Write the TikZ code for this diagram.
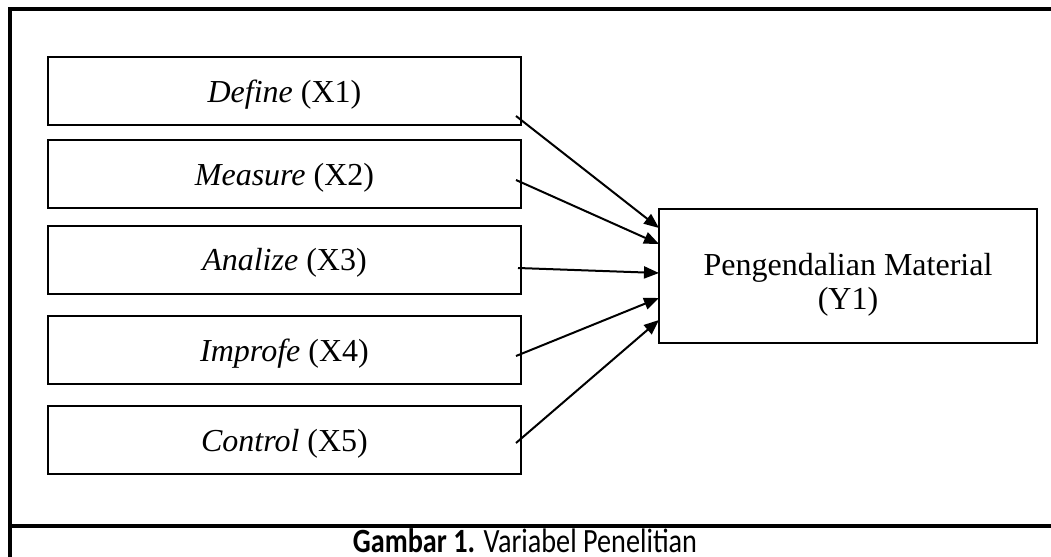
\documentclass[tikz,border=0pt]{standalone}
\usepackage{fontspec}
\setmainfont{Liberation Serif}
\newfontfamily\capfont{Carlito}
\usetikzlibrary{arrows.meta, positioning}
\tikzstyle{var} = [draw=black, line width=1pt, minimum width=236.5pt, minimum height=34pt, inner sep=0,
                   text depth=0pt, font=\fontsize{16}{18}\selectfont]
\tikzstyle{target} = [draw=black, line width=1pt, minimum width=189pt, minimum height=67pt]
\tikzstyle{link} = [line width=1pt, -{Triangle[length=7.5pt, width=6pt]}]
\tikzstyle{frame} = [line width=1.75pt]

\begin{document}
\begin{tikzpicture}[x=0.5pt, y=-0.5pt]
	\useasboundingbox (0,0) rectangle (1051,557);

	% frame
	\coordinate (TopL) at (10, 9);
	\coordinate (TopR) at (1051, 9);
	\coordinate (BotL) at (10, 557);
	\coordinate (CapL) at (10, 526);
	\coordinate (CapR) at (1051, 526);
	\draw [frame] (TopR) -- (TopL) -- (BotL);
	\draw [frame] (CapL) -- (CapR);

	% variables
	\node (X1) [var] at (284.5, 91) {\textit{Define} (X1)};
	\node (X2) [var] at (284.5, 174) {\textit{Measure} (X2)};
	\node (X3) [var] at (284.5, 259.5) {\textit{Analize} (X3)};
	\node (X4) [var] at (284.5, 350) {\textit{Improfe} (X4)};
	\node (X5) [var] at (284.5, 440) {\textit{Control} (X5)};

	\node (Y1) [target] at (848, 276) {};
	\node (Y1Text) [align=center, font=\fontsize{16}{17}\selectfont] at (848, 285) {Pengendalian Material\\(Y1)};

	% arrows
	\coordinate (X1Out) at (516, 116);
	\coordinate (X2Out) at (516, 180);
	\coordinate (X3Out) at (518, 268);
	\coordinate (X4Out) at (516, 356);
	\coordinate (X5Out) at (516, 443);
	\coordinate (Y1In1) at (659, 228);
	\coordinate (Y1In2) at (659, 244);
	\coordinate (Y1In3) at (659, 273);
	\coordinate (Y1In4) at (659, 298);
	\coordinate (Y1In5) at (659, 320);
	\draw [link] (X1Out) -- (Y1In1);
	\draw [link] (X2Out) -- (Y1In2);
	\draw [link] (X3Out) -- (Y1In3);
	\draw [link] (X4Out) -- (Y1In4);
	\draw [link] (X5Out) -- (Y1In5);

	% caption
	\node (Cap) [inner sep=0] at (525, 541) {\scalebox{0.83}[1]{\capfont\fontsize{17}{18}\selectfont\textbf{Gambar 1.} Variabel Penelitian}};
\end{tikzpicture}
\end{document}
